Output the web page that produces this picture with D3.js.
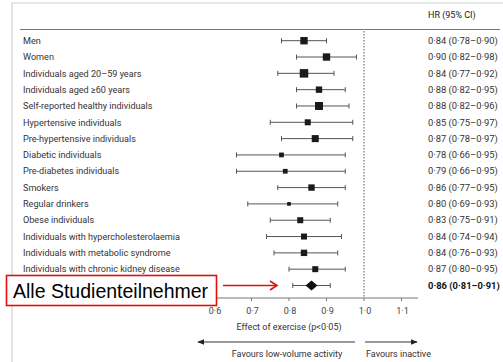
<!DOCTYPE html>
<html>
<head>
<meta charset="utf-8">
<script src="https://cdn.jsdelivr.net/npm/d3@7"></script>
<style>
  body { margin: 0; background: #fff; }
  svg text { font-family: Roboto, "Open Sans", sans-serif; }
</style>
</head>
<body>
<div id="chart"></div>
<script>
// the overall row has no visible label: the annotation box covers it
const groups = [
  'Men', 'Women', 'Individuals aged 20–59 years', 'Individuals aged \u226560 years',
  'Self-reported healthy individuals', 'Hypertensive individuals', 'Pre-hypertensive individuals',
  'Diabetic individuals', 'Pre-diabetes individuals', 'Smokers', 'Regular drinkers',
  'Obese individuals', 'Individuals with hypercholesterolaemia', 'Individuals with metabolic syndrome',
  'Individuals with chronic kidney disease', ''
];
const hr = [0.84, 0.90, 0.84, 0.88, 0.88, 0.85, 0.87, 0.78, 0.79, 0.86, 0.80, 0.83, 0.84, 0.84, 0.87, 0.86];
const lower = [0.78, 0.82, 0.77, 0.82, 0.82, 0.75, 0.78, 0.66, 0.66, 0.77, 0.69, 0.75, 0.74, 0.76, 0.80, 0.81];
const upper = [0.90, 0.98, 0.92, 0.95, 0.96, 0.97, 0.97, 0.95, 0.95, 0.95, 0.93, 0.91, 0.94, 0.93, 0.95, 0.91];
// relative weight of each subgroup (drives the square size), 0 = pooled estimate
const weights = [6, 6, 8, 4.5, 7, 4, 5.5, 2.5, 2.5, 4.5, 1.5, 4, 4, 4.5, 4, 0];
const ticks = [0.6, 0.7, 0.8, 0.9, 1.0, 1.1];

const w = 503;
const h = 362;
const fmt = v => d3.format('.2f')(v).replace('.', '\u00b7');
const fmtTick = v => d3.format('.1f')(v).replace('.', '\u00b7');

const svg = d3.select('#chart').append('svg').attr('width', w).attr('height', h);

const x = d3.scaleLinear().domain([0.6, 1.0]).range([214, 364]);
const y = d3.scaleLinear().domain([0, 15]).range([40.7, 285.5]);
const size = d3.scaleSqrt().domain([0, 8]).range([0, 8.5]);

// frame
svg.append('path')
  .attr('d', `M12,${h} V3 H${w}`)
  .attr('fill', 'none')
  .attr('stroke', '#cfcfcf')
  .attr('stroke-width', 1.2);

// header
svg.append('line')
  .attr('x1', 20).attr('x2', 500).attr('y1', 29.5).attr('y2', 29.5)
  .attr('stroke', '#777').attr('stroke-width', 1.2);
svg.append('text')
  .attr('x', 428).attr('y', 18)
  .attr('font-size', 9).attr('fill', '#222')
  .text('HR (95% CI)');

// null line
svg.append('line')
  .attr('x1', x(1)).attr('x2', x(1))
  .attr('y1', 31).attr('y2', 298)
  .attr('stroke', '#444').attr('stroke-dasharray', '1.5,1.5').attr('stroke-width', 0.9);

const rows = svg.selectAll('g.row')
  .data(groups.map((g, i) => ({ name: g, hr: hr[i], lo: lower[i], hi: upper[i], wt: weights[i], i })))
  .enter()
  .append('g')
  .attr('class', 'row')
  .attr('transform', d => `translate(0,${y(d.i)})`);

rows.filter(d => d.name !== '')
  .append('text')
  .attr('x', 23).attr('y', 3.2)
  .attr('font-size', 9.1).attr('fill', '#333')
  .text(d => d.name);

rows.append('line')
  .attr('x1', d => x(d.lo)).attr('x2', d => x(d.hi))
  .attr('stroke', '#555').attr('stroke-width', 1);
rows.selectAll('line.cap')
  .data(d => [d.lo, d.hi])
  .enter()
  .append('line')
  .attr('class', 'cap')
  .attr('x1', v => x(v)).attr('x2', v => x(v))
  .attr('y1', -2.5).attr('y2', 2.5)
  .attr('stroke', '#555').attr('stroke-width', 1);

rows.filter(d => d.wt > 0)
  .append('rect')
  .attr('x', d => x(d.hr) - size(d.wt) / 2)
  .attr('y', d => -size(d.wt) / 2)
  .attr('width', d => size(d.wt))
  .attr('height', d => size(d.wt))
  .attr('fill', '#1a1a1a');

rows.filter(d => d.wt === 0)
  .append('path')
  .attr('d', d => `M${x(d.hr) - 6},0 L${x(d.hr)},-5 L${x(d.hr) + 6},0 L${x(d.hr)},5 Z`)
  .attr('fill', '#111');

rows.append('text')
  .attr('x', 428).attr('y', 3.2)
  .attr('font-size', 9.4)
  .attr('fill', d => d.wt === 0 ? '#111' : '#333')
  .attr('font-weight', d => d.wt === 0 ? 'bold' : 'normal')
  .text(d => `${fmt(d.hr)} (${fmt(d.lo)}–${fmt(d.hi)})`);

// x axis
const axis = svg.append('g').attr('transform', 'translate(0,298)');
axis.append('line')
  .attr('x1', 210).attr('x2', 418)
  .attr('stroke', '#777').attr('stroke-width', 1);
axis.selectAll('line.tick')
  .data(ticks)
  .enter()
  .append('line')
  .attr('x1', d => x(d)).attr('x2', d => x(d))
  .attr('y1', 0).attr('y2', 3)
  .attr('stroke', '#777');
axis.selectAll('text.tick')
  .data(ticks)
  .enter()
  .append('text')
  .attr('x', d => x(d) + 1).attr('y', 16)
  .attr('text-anchor', 'middle')
  .attr('font-size', 9).attr('fill', '#444')
  .text(fmtTick);

svg.append('text')
  .attr('x', x(0.8)).attr('y', 330)
  .attr('text-anchor', 'middle')
  .attr('font-size', 9).attr('fill', '#333')
  .text('Effect of exercise (p<0·05)');

// direction arrows
svg.append('defs').append('marker')
  .attr('id', 'head')
  .attr('viewBox', '0 0 10 10')
  .attr('refX', 9).attr('refY', 5)
  .attr('markerWidth', 7).attr('markerHeight', 7)
  .attr('orient', 'auto-start-reverse')
  .append('path').attr('d', 'M0,1 L10,5 L0,9 Z').attr('fill', '#222');

svg.append('line')
  .attr('x1', 198).attr('x2', 355).attr('y1', 342).attr('y2', 342)
  .attr('stroke', '#333').attr('stroke-width', 1)
  .attr('marker-start', 'url(#head)');
svg.append('line')
  .attr('x1', 365).attr('x2', 417).attr('y1', 342).attr('y2', 342)
  .attr('stroke', '#333').attr('stroke-width', 1)
  .attr('marker-end', 'url(#head)');
svg.append('text')
  .attr('x', 287).attr('y', 357)
  .attr('text-anchor', 'middle')
  .attr('font-size', 9).attr('fill', '#333')
  .text('Favours low-volume activity');
svg.append('text')
  .attr('x', 366).attr('y', 357)
  .attr('font-size', 9).attr('fill', '#333')
  .text('Favours inactive');

// annotation
svg.append('rect')
  .attr('x', 6.5).attr('y', 275.5).attr('width', 210).attr('height', 30)
  .attr('fill', '#fff').attr('stroke', '#e01010').attr('stroke-width', 1.6);
svg.append('text')
  .attr('x', 13).attr('y', 297.5)
  .attr('font-size', 19.5).attr('fill', '#000')
  .style('font-family', '"Liberation Sans", Arial, sans-serif')
  .text('Alle Studienteilnehmer');
svg.append('line')
  .attr('x1', 223).attr('x2', 276).attr('y1', y(15)).attr('y2', y(15))
  .attr('stroke', '#e01010').attr('stroke-width', 1.6);
svg.append('path')
  .attr('d', `M270,${y(15) - 4.5} L277,${y(15)} L270,${y(15) + 4.5}`)
  .attr('fill', 'none').attr('stroke', '#e01010').attr('stroke-width', 1.6);
</script>
</body>
</html>
